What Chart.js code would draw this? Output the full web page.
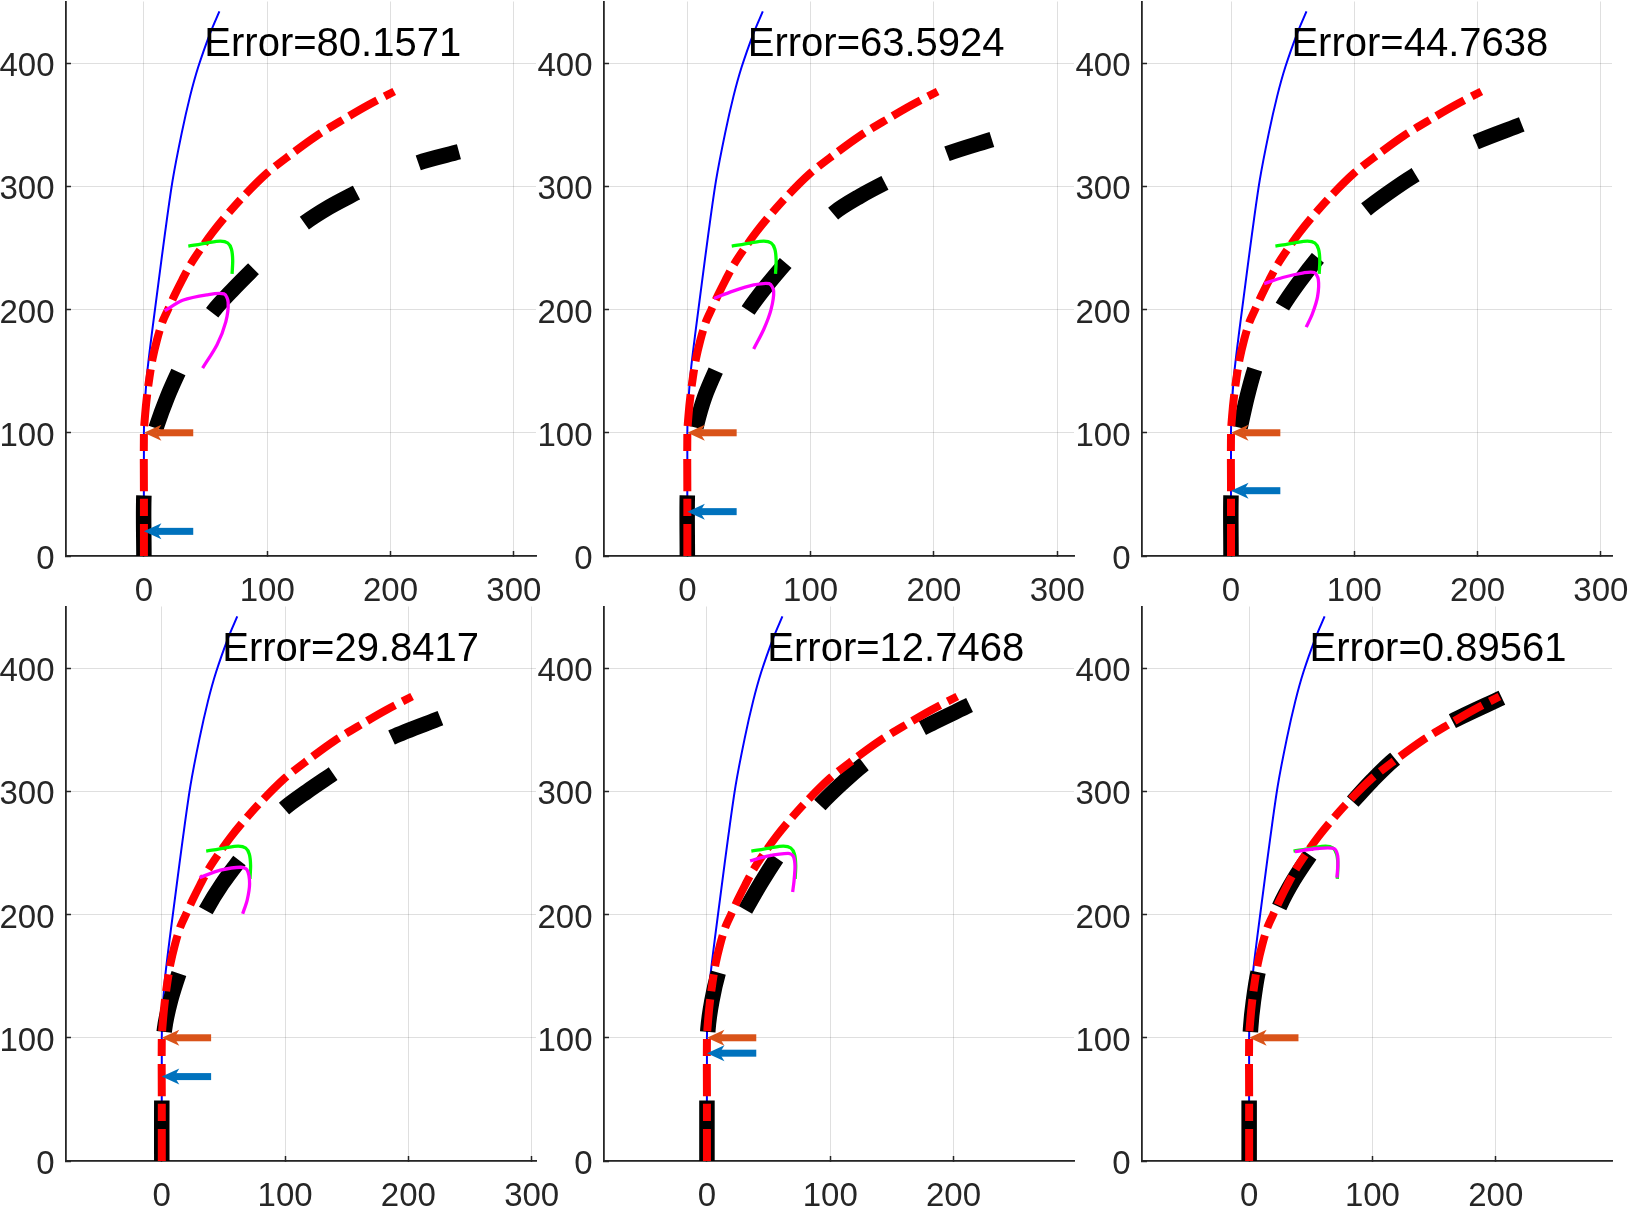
<!DOCTYPE html>
<html>
<head>
<meta charset="utf-8">
<script src="https://cdn.jsdelivr.net/npm/chart.js@4.4.0/dist/chart.umd.min.js"></script>
<style>
  html, body { margin: 0; padding: 0; background: #fff; }
  body { width: 1628px; height: 1207px; position: relative; overflow: hidden; }
  canvas { position: absolute; }
</style>
</head>
<body>
<script>
// ---------- values ----------
const errorLabels = ['80.1571', '63.5924', '44.7638', '29.8417', '12.7468', '0.89561'];
const xMins = [-63.2, -67.6, -72.2, -77.7, -83.5, -86.9];
const xMaxs = [318, 313.6, 309, 303.5, 297.7, 294.3];
const yMin = 0, yMax = 450;
const xTicks = [0, 100, 200, 300];
const yTicks = [0, 100, 200, 300, 400];

// reference path (red dash-dot), same in every panel
const redX = [0, 0, 0, 1, 2.5, 4.5, 7, 10.5, 15, 19.5, 25, 31, 38, 48, 56, 64, 79, 99, 118, 140, 163, 182, 203];
const redY = [0, 50, 100, 115, 130, 145, 160, 175, 190, 200, 212, 224, 237, 252, 263, 273, 290, 310, 325, 341, 355, 366, 377];

// thin blue curve
const blueX = [0, 0, 0.4, 1.3, 3, 6.5, 11.7, 17.1, 23.3, 30.6, 37.4, 44.1, 53.6, 61.2];
const blueY = [0, 100, 115, 132, 152, 181, 221, 262, 305, 343, 373, 397, 424, 442];

// green hook
const greenX = [36, 51, 62, 68, 71, 72, 71.5];
const greenY = [251.5, 254, 255.5, 254, 249, 240, 229];

// black dashed path, one per panel
const blackX = [
  [0, 0, 3, 10.4, 19, 29, 41, 56.6, 72, 88.8, 108, 129.4, 150, 171.4, 196, 222.4, 255.5],
  [0, 0, 2, 7.6, 14, 23.5, 35, 49.6, 64, 80.4, 99, 119.6, 140, 160.2, 185, 210.6, 247],
  [0, 0, 2, 7.9, 13, 19.2, 29, 41.9, 55, 70.2, 88, 108.4, 128, 148, 172, 196, 235.8],
  [0, 0, 0.5, 2.2, 7, 14, 24, 36.3, 49, 62.8, 80, 99.2, 118, 137, 162, 187, 226],
  [0, 0, 0, 0.8, 4, 9.2, 18, 31.7, 44, 57.4, 73, 92.4, 109, 126, 150, 175, 213],
  [0, 0, 0, 1.2, 3.5, 7.3, 15, 24.8, 36, 49, 65, 84, 100, 117.3, 140, 164, 205]
];
const blackY = [
  [0, 50, 80, 105.6, 129, 151.5, 176, 199, 216, 233, 252, 269.6, 283, 294.4, 307, 319, 328],
  [0, 50, 80, 107, 129, 151.5, 176, 199.7, 219, 238.5, 259, 279, 292, 302.8, 315, 326.4, 338],
  [0, 50, 80, 106.5, 129, 151.5, 178, 202.8, 222, 241.6, 262, 280.4, 295, 308.4, 322, 334.8, 350.3],
  [0, 50, 80, 107, 130, 152.5, 180, 204.4, 225, 243.7, 266, 286, 300, 313, 330, 344, 359.4],
  [0, 50, 80, 107, 130, 152.8, 180, 204.7, 226, 247, 268, 289.8, 306, 321, 337, 351.5, 370],
  [0, 50, 80, 108, 130, 153.6, 182, 207, 228, 247.7, 270, 291.6, 309, 325.6, 342, 356.5, 376]
];

// magenta curve, one per panel
const magentaX = [
  [16.8, 31.4, 51, 65, 68.3, 66.4, 59.4, 47.6],
  [21.6, 37, 53.8, 66.4, 70, 67.8, 62, 53.8],
  [26.9, 41.9, 58.9, 67.4, 70.8, 70.2, 66, 61],
  [30.7, 47.5, 64.2, 69.3, 71.2, 69.3, 65.6],
  [35, 49, 65.8, 70, 71.4, 70.6, 69.5],
  [37, 55, 68.8, 71.8, 71.8, 71.2]
];
const magentaY = [
  [199, 207.5, 212, 212.7, 206, 190, 171.7, 152.5],
  [209, 215, 220, 221, 215, 199.7, 184, 168],
  [221, 226, 229.8, 230, 224.5, 210.5, 196.6, 185.7],
  [230, 236, 238.4, 236, 225, 212, 200.6],
  [243.5, 247.4, 249.6, 247.4, 239.5, 227, 218.3],
  [251, 253.6, 253.6, 247.7, 238, 230]
];

// arrows (tail x -> tip x at height y)
const arrowTailX = 40, arrowTipX = 0;
const orangeArrowY = [100, 100, 100, 100, 100, 100];
const blueArrowY = [20, 36, 53, 68.5, 87.5, null];

// error label anchor (data coords, text baseline)
const labelX = 49, labelY = 406;

// ---------- layout / style ----------
const FONT = '"Liberation Sans", Arial, Helvetica, sans-serif';
const AXIS = '#262626';
const panels = [
  { left: 0,    top: 0,   w: 575, h: 610, padTop: 1.5, xAxisH: 54 },
  { left: 538,  top: 0,   w: 575, h: 610, padTop: 1.5, xAxisH: 54 },
  { left: 1076, top: 0,   w: 552, h: 610, padTop: 1.5, xAxisH: 54 },
  { left: 0,    top: 600, w: 575, h: 607, padTop: 6.5, xAxisH: 46 },
  { left: 538,  top: 600, w: 575, h: 607, padTop: 6.5, xAxisH: 46 },
  { left: 1076, top: 600, w: 552, h: 607, padTop: 6.5, xAxisH: 46 }
];
const Y_AXIS_W = 66, AREA_W = 470;

function pts(xs, ys) { return xs.map((x, i) => ({ x: x, y: ys[i] })); }

function lineSet(xs, ys, color, width, dash, tension) {
  return {
    data: pts(xs, ys), borderColor: color, borderWidth: width,
    borderDash: dash || [], tension: tension, pointRadius: 0, fill: false,
    clip: 0, borderCapStyle: 'butt', borderJoinStyle: 'round'
  };
}

function arrowSet(y, color) {
  return {
    data: [{ x: arrowTailX, y: y }, { x: arrowTipX, y: y }],
    isArrow: true, borderColor: color, showLine: false, pointRadius: 0
  };
}

// draws quiver-style arrows on datasets flagged isArrow, using their element positions
const arrowPlugin = {
  id: 'quiverArrows',
  afterDatasetsDraw(chart) {
    const ctx = chart.ctx;
    chart.data.datasets.forEach((ds, i) => {
      if (!ds.isArrow) return;
      const p = chart.getDatasetMeta(i).data;
      const a = p[0], b = p[1];
      const ang = Math.atan2(b.y - a.y, b.x - a.x);
      const L = 17.5, H = 8;
      ctx.save();
      ctx.translate(b.x, b.y);
      ctx.rotate(ang);
      const len = Math.hypot(b.x - a.x, b.y - a.y);
      ctx.fillStyle = ds.borderColor;
      ctx.fillRect(-len, -3.5, len - L * 0.7, 7);
      ctx.beginPath();
      ctx.moveTo(0, 0);
      ctx.lineTo(-L, -H);
      ctx.lineTo(-L * 0.72, 0);
      ctx.lineTo(-L, H);
      ctx.closePath();
      ctx.fill();
      ctx.restore();
    });
  }
};

const errorTextPlugin = {
  id: 'errorText',
  afterDatasetsDraw(chart, args, opts) {
    const ctx = chart.ctx;
    ctx.save();
    ctx.font = '40px ' + FONT;
    ctx.fillStyle = '#000';
    ctx.textAlign = 'left';
    ctx.textBaseline = 'alphabetic';
    ctx.fillText('Error=' + opts.value,
      chart.scales.x.getPixelForValue(labelX),
      chart.scales.y.getPixelForValue(labelY));
    ctx.restore();
  }
};

function axis(min, max, ticks, isX, fitSize) {
  return {
    type: 'linear', min: min, max: max,
    afterBuildTicks: s => {
      s.ticks = ticks.filter(v => v >= min && v <= max).map(v => ({ value: v }));
    },
    afterFit: s => {
      if (isX) s.height = fitSize; else s.width = fitSize;
      s.paddingLeft = 0; s.paddingRight = 0; s.paddingTop = 0; s.paddingBottom = 0;
    },
    ticks: {
      color: AXIS, font: { family: FONT, size: 33 },
      padding: isX ? 21 : 16.5, labelOffset: isX ? 0 : 4,
      maxRotation: 0, minRotation: 0, autoSkip: false
    },
    grid: {
      color: 'rgba(38,38,38,0.15)', lineWidth: 1,
      drawTicks: true, tickLength: -5, tickColor: AXIS, tickWidth: 1.5
    },
    border: { color: AXIS, width: 1.8 }
  };
}

panels.forEach((p, k) => {
  const cv = document.createElement('canvas');
  cv.width = p.w; cv.height = p.h;
  cv.style.left = p.left + 'px'; cv.style.top = p.top + 'px';
  cv.style.width = p.w + 'px'; cv.style.height = p.h + 'px';
  document.body.appendChild(cv);

  // first dataset ends up on top
  const datasets = [arrowSet(orangeArrowY[k], '#D95319')];
  if (blueArrowY[k] !== null) datasets.push(arrowSet(blueArrowY[k], '#0072BD'));
  datasets.push(
    lineSet(magentaX[k], magentaY[k], '#FF00FF', 3.3, null, 0.3),
    lineSet(greenX, greenY, '#00FF00', 3.3, null, 0.3),
    lineSet(redX, redY, '#FF0000', 8, [32, 8, 17, 8], 0.3),
    lineSet(blackX[k], blackY[k], '#000000', 15.5, [60.5, 68.5], 0.3),
    lineSet(blueX, blueY, '#0000FF', 2, null, 0.3)
  );

  new Chart(cv.getContext('2d'), {
    type: 'line',
    data: { datasets: datasets },
    options: {
      responsive: false, animation: false, events: [],
      layout: { padding: { left: 0, top: p.padTop, right: p.w - Y_AXIS_W - AREA_W, bottom: 0 } },
      plugins: {
        legend: { display: false }, tooltip: { enabled: false },
        errorText: { value: errorLabels[k] }
      },
      scales: {
        x: axis(xMins[k], xMaxs[k], xTicks, true, p.xAxisH),
        y: axis(yMin, yMax, yTicks, false, Y_AXIS_W)
      }
    },
    plugins: [arrowPlugin, errorTextPlugin]
  });
});
</script>
</body>
</html>
